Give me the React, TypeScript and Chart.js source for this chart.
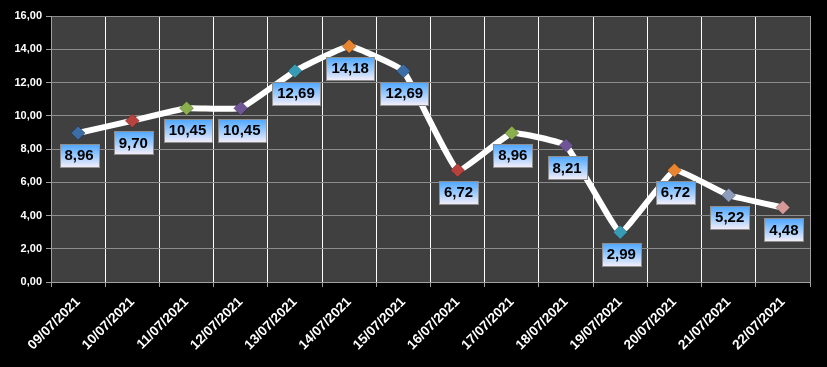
import React, { useEffect, useRef } from "react";
import { Chart, registerables } from "chart.js";

Chart.register(...registerables);

const categories = [
  "09/07/2021", "10/07/2021", "11/07/2021", "12/07/2021", "13/07/2021", "14/07/2021", "15/07/2021",
  "16/07/2021", "17/07/2021", "18/07/2021", "19/07/2021", "20/07/2021", "21/07/2021", "22/07/2021",
];
const values = [8.96, 9.7, 10.45, 10.45, 12.69, 14.18, 12.69, 6.72, 8.96, 8.21, 2.99, 6.72, 5.22, 4.48];
const markerColors = [
  "#3D6DA6", "#B8423E", "#8BAF4C", "#6F5596", "#389BB6", "#E9842F", "#3D6DA6",
  "#B8423E", "#8BAF4C", "#6F5596", "#389BB6", "#E9842F", "#8C9DBC", "#D59A98",
];
const yMin = 0;
const yMax = 16;
const yStep = 2;

const fmt = (v: number) => v.toFixed(2).replace(".", ",");

const bgPlugin = {
  id: "bgPlugin",
  beforeDraw(chart: any) {
    const { ctx, chartArea, width, height } = chart;
    ctx.save();
    ctx.fillStyle = "#000000";
    ctx.fillRect(0, 0, width, height);
    ctx.fillStyle = "#404040";
    ctx.fillRect(chartArea.left, chartArea.top, chartArea.right - chartArea.left, chartArea.bottom - chartArea.top);
    ctx.restore();
  },
  afterDraw(chart: any) {
    const { ctx, chartArea } = chart;
    ctx.save();
    ctx.strokeStyle = "#A0A0A0";
    ctx.lineWidth = 1;
    ctx.beginPath();
    ctx.moveTo(Math.round(chartArea.right) + 0.5, chartArea.top);
    ctx.lineTo(Math.round(chartArea.right) + 0.5, chartArea.bottom);
    ctx.stroke();
    ctx.restore();
  },
};

const labelPlugin = {
  id: "labelPlugin",
  afterDatasetsDraw(chart: any) {
    const { ctx } = chart;
    const meta = chart.getDatasetMeta(0);
    ctx.save();
    ctx.font = "bold 15px 'Liberation Sans', Arial, sans-serif";
    ctx.textAlign = "center";
    ctx.textBaseline = "middle";
    meta.data.forEach((pt: any, i: number) => {
      const text = fmt(values[i]);
      const tw = ctx.measureText(text).width;
      const w = Math.round(tw + 10);
      const h = 23;
      const cx = pt.x + 1;
      const cy = pt.y + 22;
      const x0 = Math.round(cx - w / 2) + 0.5;
      const y0 = Math.round(cy - h / 2) + 0.5;
      const g = ctx.createLinearGradient(0, y0, 0, y0 + h);
      g.addColorStop(0, "#4FA6FF");
      g.addColorStop(0.5, "#9CCBFF");
      g.addColorStop(1, "#F6EEF8");
      ctx.fillStyle = g;
      ctx.fillRect(x0, y0, w, h);
      ctx.strokeStyle = "#8E8E8E";
      ctx.lineWidth = 1;
      ctx.strokeRect(x0, y0, w, h);
      ctx.fillStyle = "#000000";
      ctx.fillText(text, cx, cy + 1);
    });
    ctx.restore();
  },
};

export default function App() {
  const ref = useRef<HTMLCanvasElement>(null);

  useEffect(() => {
    document.body.style.margin = "0";
    document.body.style.background = "#000";
    const canvas = ref.current!;
    const chart = new Chart(canvas, {
      type: "line",
      data: {
        labels: categories,
        datasets: [
          {
            data: values,
            borderColor: "#FFFFFF",
            borderWidth: 6,
            tension: 0.1,
            pointStyle: "rectRot",
            pointRadius: 7,
            pointHoverRadius: 7,
            pointBackgroundColor: markerColors,
            pointBorderColor: markerColors.map(() => "rgba(0,0,0,0.25)"),
            pointBorderWidth: 1,
          },
        ],
      },
      options: {
        responsive: false,
        animation: false,
        maintainAspectRatio: false,
        layout: { padding: { top: 16, right: 17, left: 0, bottom: 0 } },
        plugins: {
          legend: { display: false },
          tooltip: { enabled: false },
        },
        scales: {
          x: {
            offset: true,
            grid: {
              offset: true,
              color: "#FFFFFF",
              lineWidth: 1,
              drawTicks: true,
              tickLength: 5,
              tickColor: "#A0A0A0",
            },
            border: { color: "#A0A0A0", width: 1 },
            ticks: {
              color: "#FFFFFF",
              font: { family: "'Liberation Sans', Arial, sans-serif", size: 13.5, weight: "bold" },
              maxRotation: 45,
              minRotation: 45,
              autoSkip: false,
              padding: 7,
            },
            afterFit: (s: any) => {
              s.height = 85;
            },
          },
          y: {
            min: yMin,
            max: yMax,
            grid: {
              color: "#8C8C8C",
              lineWidth: 1,
              drawTicks: true,
              tickLength: 5,
              tickColor: "#A0A0A0",
            },
            border: { color: "#A0A0A0", width: 1 },
            ticks: {
              stepSize: yStep,
              color: "#FFFFFF",
              font: { family: "'Liberation Sans', Arial, sans-serif", size: 11, weight: "bold" },
              padding: 4,
              callback: (v: any) => fmt(Number(v)),
            },
            afterFit: (s: any) => {
              s.width = 51;
            },
          },
        },
      },
      plugins: [bgPlugin, labelPlugin],
    });
    return () => chart.destroy();
  }, []);

  return <canvas ref={ref} width={827} height={367} style={{ display: "block" }} />;
}
